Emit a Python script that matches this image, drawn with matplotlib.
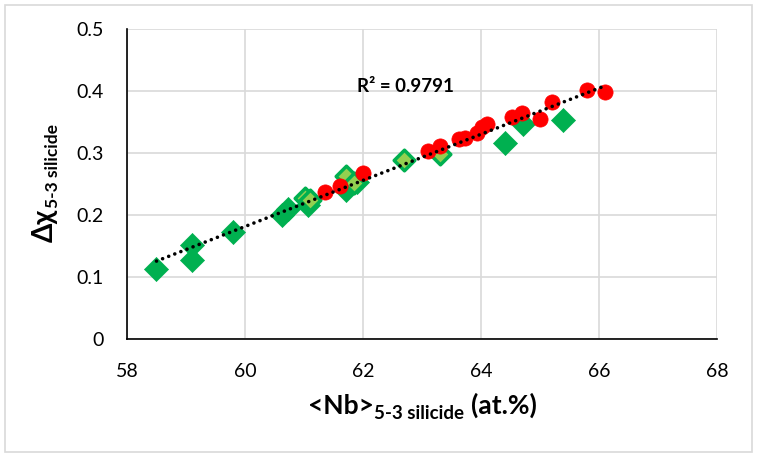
import numpy as np
import matplotlib
matplotlib.use("Agg")
import matplotlib.pyplot as plt
from matplotlib.patches import Rectangle
from matplotlib.transforms import IdentityTransform

plt.rcParams['font.family'] = ['Lato', 'DejaVu Sans']

# Dark green diamonds
dark_x = [58.5, 59.1, 59.1, 59.8, 60.63, 60.73, 61.07, 61.72, 61.9, 64.41, 64.72, 65.39]
dark_y = [0.112, 0.151, 0.127, 0.172, 0.200, 0.209, 0.216, 0.240, 0.253, 0.315, 0.347, 0.353]
# Light green diamonds
light_x = [61.02, 61.10, 61.71, 61.84, 62.70, 63.31]
light_y = [0.227, 0.224, 0.262, 0.251, 0.288, 0.298]
# Red circles
red_x = [61.36, 61.61, 62.0, 63.11, 63.31, 63.62, 63.73, 63.93, 64.01, 64.10,
         64.52, 64.69, 65.0, 65.2, 65.80, 66.10]
red_y = [0.237, 0.246, 0.267, 0.303, 0.311, 0.322, 0.324, 0.332, 0.342, 0.347,
         0.358, 0.364, 0.354, 0.382, 0.401, 0.398]

r2_label = "R² = 0.9791"
x_ticks = [58, 60, 62, 64, 66, 68]
y_ticks = [0, 0.1, 0.2, 0.3, 0.4, 0.5]
y_tick_labels = ["0", "0.1", "0.2", "0.3", "0.4", "0.5"]
xlabel_parts = ["<Nb>", "5-3 silicide", "(at.%)"]
ylabel_parts = ["Δχ", "5-3 silicide"]

W, H = 757, 457
fig = plt.figure(figsize=(W / 100, H / 100), dpi=100)
ax = fig.add_axes([127 / W, 1 - 339 / H, 590 / W, 310.5 / H])

ax.set_xlim(58, 68)
ax.set_ylim(0, 0.5)
ax.set_xticks(x_ticks)
ax.set_yticks(y_ticks)
ax.set_yticklabels(y_tick_labels)
ax.grid(True, color='#D9D9D9', linewidth=1.2, zorder=0)
ax.set_axisbelow(True)
ax.tick_params(length=0, labelsize=14)
ax.tick_params(axis='x', pad=17)
ax.tick_params(axis='y', pad=17)
for s in ['top', 'right']:
    ax.spines[s].set_visible(False)
for s in ['left', 'bottom']:
    ax.spines[s].set_color('black')
    ax.spines[s].set_linewidth(1.2)

ax.scatter(dark_x, dark_y, marker='D', s=150, color='#00B050', edgecolors='#00B050',
           linewidths=0.5, zorder=3)
ax.scatter(light_x, light_y, marker='D', s=110, color='#92D050', edgecolors='#00B050',
           linewidths=2.5, zorder=3)
ax.scatter(red_x, red_y, marker='o', s=120, color='#FF0000', edgecolors='#FF0000',
           linewidths=0.5, zorder=4)

all_x = np.array(dark_x + light_x + red_x)
all_y = np.array(dark_y + light_y + red_y)
p = np.polyfit(all_x, all_y, 1)
xl = np.array([all_x.min(), all_x.max()])
ax.plot(xl, np.polyval(p, xl), linestyle=(0, (0.01, 1.8)), color='black', linewidth=2.6,
        dash_capstyle='round', zorder=5)

ax.text(61.9, 0.406, r2_label, fontsize=13.5, fontweight='bold', ha='left', va='center')

renderer = fig.canvas.get_renderer()


def measure(s, size):
    t = fig.text(0, 0, s, fontsize=size, fontweight='bold', transform=IdentityTransform())
    w = t.get_window_extent(renderer).width
    t.remove()
    return w


def compose(parts, center, base, vertical):
    # parts: list of (text, size, drop, gap_before)
    widths = [measure(s, sz) for s, sz, d, g in parts]
    total = sum(widths) + sum(g for s, sz, d, g in parts)
    pos = center - total / 2
    for (s, sz, d, g), w in zip(parts, widths):
        pos += g
        if vertical:
            fig.text(base + d, pos, s, fontsize=sz, fontweight='bold', rotation=90,
                     rotation_mode='anchor', ha='left', va='baseline',
                     transform=IdentityTransform())
        else:
            fig.text(pos, base - d, s, fontsize=sz, fontweight='bold', ha='left',
                     va='baseline', transform=IdentityTransform())
        pos += w


compose([(xlabel_parts[0], 19, 0, 0), (xlabel_parts[1], 13.5, 5, 1),
         (xlabel_parts[2], 19, 0, 6)], center=422, base=H - 414, vertical=False)
compose([(ylabel_parts[0], 20, 0, 0), (ylabel_parts[1], 12.5, 5, 1)],
        center=H - 183, base=53, vertical=True)

fig.patches.append(Rectangle((0.006, 0.01), 0.988, 0.98, transform=fig.transFigure,
                             fill=False, edgecolor='#D9D9D9', linewidth=1.2))

fig.savefig('out.png', dpi=100)
